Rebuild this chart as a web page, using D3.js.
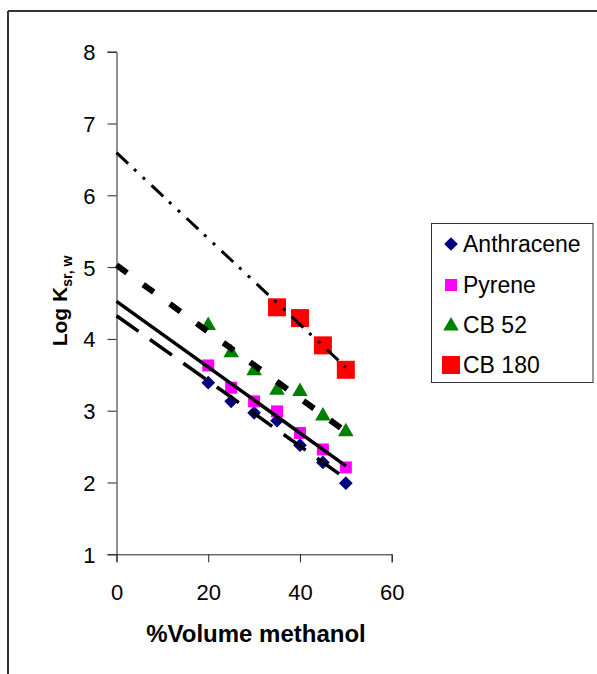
<!DOCTYPE html>
<html lang="en">
<head>
    <meta charset="UTF-8">
    <title>Log Ksr,w vs % Volume methanol</title>
    <script src="https://d3js.org/d3.v7.min.js"></script>
    <style>
        body { margin: 0; background: #fff; }
        svg { display: block; font-family: Arial, "Liberation Sans", sans-serif; }
    </style>
</head>
<body>
    <svg width="597" height="674"></svg>
    <script>
        // values
        const methanol = [20, 25, 30, 35, 40, 45, 50];
        const anthracene = [3.39, 3.13, 2.97, 2.86, 2.52, 2.28, 1.99];
        const pyrene = [3.63, 3.32, 3.13, 2.99, 2.69, 2.46, 2.21];
        const cb52 = [4.20, 3.82, 3.57, 3.30, 3.28, 2.94, 2.72];
        const methanolCB180 = [35, 40, 45, 50];
        const cb180 = [4.44, 4.29, 3.91, 3.57];

        const xTicks = [0, 20, 40, 60];
        const yTicks = [1, 2, 3, 4, 5, 6, 7, 8];
        const seriesNames = ["Anthracene", "Pyrene", "CB 52", "CB 180"];

        const svg = d3.select("svg");

        // outer chart frame (only top and left edges show in the crop)
        svg.append("line").attr("x1", 8).attr("y1", 11).attr("x2", 597).attr("y2", 11)
            .attr("stroke", "#333").attr("stroke-width", 2);
        svg.append("line").attr("x1", 8).attr("y1", 11).attr("x2", 8).attr("y2", 674)
            .attr("stroke", "#333").attr("stroke-width", 2);

        const x = d3.scaleLinear().domain([0, 60]).range([116.5, 391.7]);
        const y = d3.scaleLinear().domain([1, 8]).range([554.3, 51.7]);

        // axes
        const xAxis = svg.append("g")
            .attr("transform", `translate(0,${y(1)})`)
            .call(d3.axisBottom(x).tickValues(xTicks).tickFormat(d3.format("d"))
                .tickSize(8).tickPadding(22));
        const yAxis = svg.append("g")
            .attr("transform", `translate(${x(0)},0)`)
            .call(d3.axisLeft(y).tickValues(yTicks).tickFormat(d3.format("d"))
                .tickSize(9).tickPadding(12));

        [xAxis, yAxis].forEach(g => {
            g.attr("font-size", 22).attr("font-family", null);
            g.select(".domain").attr("stroke", "#222").attr("stroke-width", 1);
            g.selectAll(".tick line").attr("stroke", "#222").attr("stroke-width", 1);
            g.selectAll(".tick text").attr("fill", "#000");
        });
        yAxis.selectAll(".tick text").attr("dy", "0.36em");

        // axis titles
        svg.append("text")
            .attr("x", 256).attr("y", 642)
            .attr("text-anchor", "middle")
            .attr("font-size", 24).attr("font-weight", "bold")
            .text("%Volume methanol");

        const yTitle = svg.append("text")
            .attr("transform", "translate(67,301) rotate(-90)")
            .attr("text-anchor", "middle")
            .attr("font-size", 21).attr("font-weight", "bold");
        yTitle.append("tspan").text("Log K");
        yTitle.append("tspan").attr("dy", 5).attr("font-size", 14).text("sr, w");

        // markers
        const symDiamond = d3.symbol().type(d3.symbolDiamond2).size(120)();
        const symTri = d3.symbol().type(d3.symbolTriangle).size(105)();

        const series = [
            { name: seriesNames[0], xs: methanol, ys: anthracene, color: "#000080",
              mark: (g) => g.append("path").attr("d", symDiamond) },
            { name: seriesNames[1], xs: methanol, ys: pyrene, color: "#ff00ff",
              mark: (g) => g.append("rect").attr("x", -6).attr("y", -6).attr("width", 12).attr("height", 12) },
            { name: seriesNames[2], xs: methanol, ys: cb52, color: "#008000",
              mark: (g) => g.append("path").attr("d", symTri).attr("transform", "translate(0,1)") },
            { name: seriesNames[3], xs: methanolCB180, ys: cb180, color: "#ff0000",
              mark: (g) => g.append("rect").attr("x", -9).attr("y", -9).attr("width", 18).attr("height", 18) }
        ];

        series.forEach(s => {
            const pts = svg.append("g").selectAll("g")
                .data(s.xs.map((v, i) => [v, s.ys[i]]))
                .enter().append("g")
                .attr("transform", d => `translate(${x(d[0])},${y(d[1])})`)
                .attr("fill", s.color);
            pts.each(function () { s.mark(d3.select(this)); });
        });

        // linear trendlines, extended back to 0 % methanol
        function fit(xs, ys) {
            const mx = d3.mean(xs), my = d3.mean(ys);
            let sxy = 0, sxx = 0;
            xs.forEach((v, i) => { sxy += (v - mx) * (ys[i] - my); sxx += (v - mx) * (v - mx); });
            const b = sxy / sxx;
            return v => my + b * (v - mx);
        }

        const trendStyles = [
            { width: 3.5, dash: "27,14" },
            { width: 3.5, dash: null },
            { width: 6, dash: "13,20" },
            { width: 3, dash: "16,8,3,9,3,9" }
        ];

        series.forEach((s, i) => {
            const f = fit(s.xs, s.ys);
            svg.append("line")
                .attr("x1", x(0)).attr("y1", y(f(0)))
                .attr("x2", x(50)).attr("y2", y(f(50)))
                .attr("stroke", "#000")
                .attr("stroke-width", trendStyles[i].width)
                .attr("stroke-dasharray", trendStyles[i].dash);
        });

        // legend
        const legend = svg.append("g");
        legend.append("rect")
            .attr("x", 431.5).attr("y", 223.5)
            .attr("width", 161.5).attr("height", 159)
            .attr("fill", "#fff").attr("stroke", "#333").attr("stroke-width", 1);

        const rowY = [244, 285, 325, 365];
        series.forEach((s, i) => {
            const g = legend.append("g")
                .attr("transform", `translate(451,${rowY[i]})`)
                .attr("fill", s.color);
            s.mark(g);
            legend.append("text")
                .attr("x", 463).attr("y", rowY[i] + 8)
                .attr("font-size", 23)
                .text(s.name);
        });
    </script>
</body>
</html>
